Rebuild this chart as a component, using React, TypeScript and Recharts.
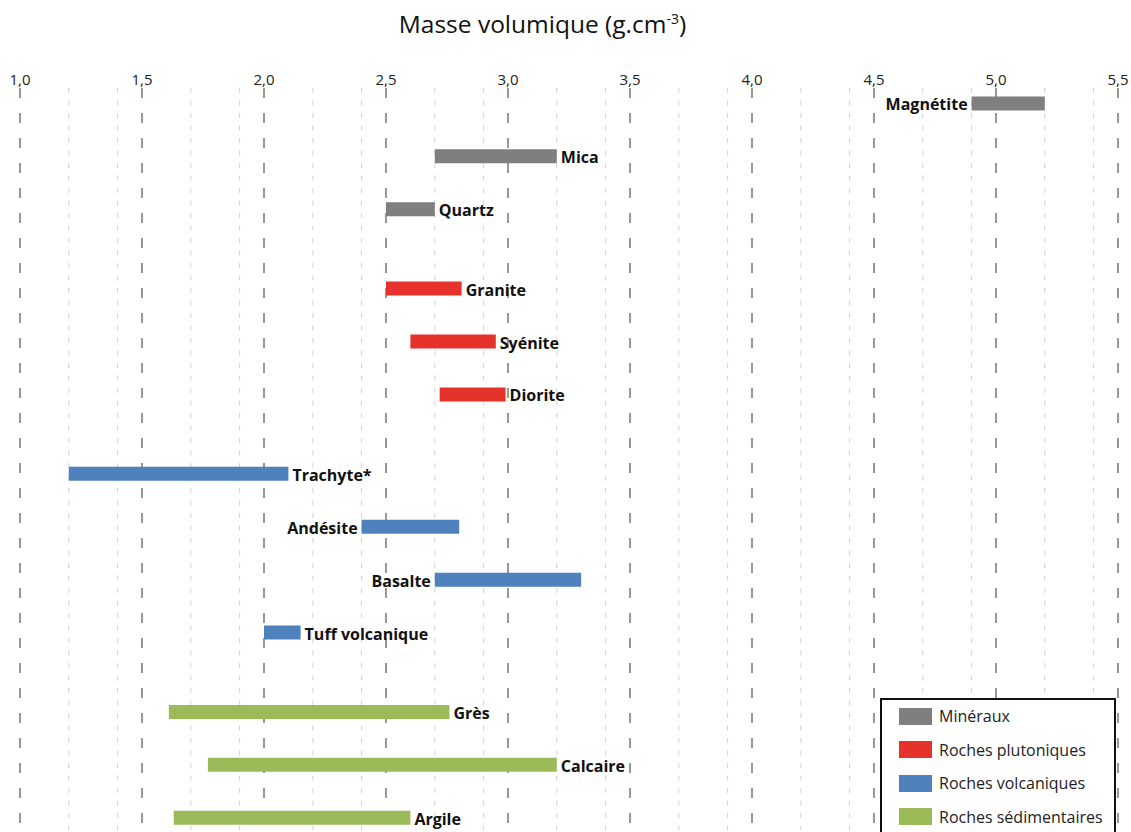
import { ComposedChart, Bar, XAxis, YAxis, CartesianGrid, Cell, LabelList, Legend } from 'recharts';

const groupNames = ['Minéraux', 'Roches plutoniques', 'Roches volcaniques', 'Roches sédimentaires'];
const groupColors = ['#7f7f7f', '#e5322b', '#4f81bd', '#9bbb59'];

const rocks = ['Magnétite', 'Mica', 'Quartz', 'Granite', 'Syénite', 'Diorite', 'Trachyte*', 'Andésite', 'Basalte', 'Tuff volcanique', 'Grès', 'Calcaire', 'Argile'];
const rockGroup = [0, 0, 0, 1, 1, 1, 2, 2, 2, 2, 3, 3, 3];
const minDensity = [4.9, 2.7, 2.5, 2.5, 2.6, 2.72, 1.2, 2.4, 2.7, 2.0, 1.61, 1.77, 1.63];
const maxDensity = [5.2, 3.2, 2.7, 2.81, 2.95, 2.99, 2.1, 2.8, 3.3, 2.15, 2.76, 3.2, 2.6];
const labelOnLeft = [true, false, false, false, false, false, false, true, true, false, false, false, false];

const majorTicks = [1.0, 1.5, 2.0, 2.5, 3.0, 3.5, 4.0, 4.5, 5.0, 5.5];

// each group is pushed down half a row so the groups get a bit of air
const data = rocks.map((name, i) => ({
  name,
  pos: i + 0.5 * rockGroup[i],
  range: [minDensity[i], maxDensity[i]],
  group: rockGroup[i],
}));

const minorGrid: number[] = [];
for (let k = 10; k <= 55; k++) if (k % 5 !== 0) minorGrid.push(k / 10);

const fmt = (v: number) => v.toFixed(1).replace('.', ',');

const RockLabel = (props: any) => {
  const { x, y, width, height, index, value } = props;
  const left = labelOnLeft[index];
  return (
    <text
      x={left ? x - 4 : x + width + 4}
      y={y + height / 2 + 1}
      textAnchor={left ? 'end' : 'start'}
      dominantBaseline="central"
      fontFamily="Open Sans"
      fontWeight={700}
      fontSize={16}
      fill="#111"
    >
      {value}
    </text>
  );
};

const LegendBox = () => (
  <div style={{ width: 232, height: 136, border: '2px solid #111', background: '#fff', position: 'relative', fontFamily: 'Open Sans' }}>
    {groupNames.map((g, i) => (
      <div key={g} style={{ position: 'absolute', left: 17, top: 7 + i * 33.5, display: 'flex', alignItems: 'center', height: 18 }}>
        <span style={{ width: 33, height: 17, background: groupColors[i], display: 'inline-block' }} />
        <span style={{ marginLeft: 7, fontSize: 16, color: '#222' }}>{g}</span>
      </div>
    ))}
  </div>
);

const App = () => {
  return (
    <div style={{ position: 'absolute', left: 0, top: 0, width: 1131, height: 832, background: '#fff', overflow: 'hidden' }}>
      <div style={{ position: 'absolute', left: 0, top: 7, width: 1085, textAlign: 'center', fontFamily: 'Open Sans', fontSize: 24.5, color: '#111' }}>
        Masse volumique (g.cm<sup style={{ fontSize: 14 }}>-3</sup>)
      </div>
      <ComposedChart width={1131} height={832} data={data} layout="vertical" margin={{ top: 58, right: 13, left: 20, bottom: 0 }}>
        <CartesianGrid horizontal={false} verticalValues={minorGrid} stroke="#d2d2d2" strokeWidth={1} strokeDasharray="5 7.5" />
        <CartesianGrid horizontal={false} verticalValues={majorTicks} stroke="#777" strokeWidth={1.5} strokeDasharray="10 15" />
        <XAxis
          type="number"
          orientation="top"
          domain={[1, 5.5]}
          ticks={majorTicks}
          tickFormatter={fmt}
          axisLine={false}
          tickLine={false}
          tickSize={0}
          tickMargin={3}
          height={30}
          allowDataOverflow
          tick={{ fontFamily: 'Open Sans', fontSize: 15, fill: '#222' }}
        />
        <YAxis type="number" dataKey="pos" domain={[-0.3, 13.76]} hide allowDataOverflow />
        <Bar dataKey="range" barSize={14} isAnimationActive={false}>
          {data.map((d) => (
            <Cell key={d.name} fill={groupColors[d.group]} />
          ))}
          <LabelList dataKey="name" content={RockLabel} />
        </Bar>
        <Legend
          layout="vertical"
          align="center"
          verticalAlign="middle"
          content={LegendBox}
          wrapperStyle={{ left: 880, top: 698, width: 236, height: 140 }}
        />
      </ComposedChart>
    </div>
  );
};

export default App;
